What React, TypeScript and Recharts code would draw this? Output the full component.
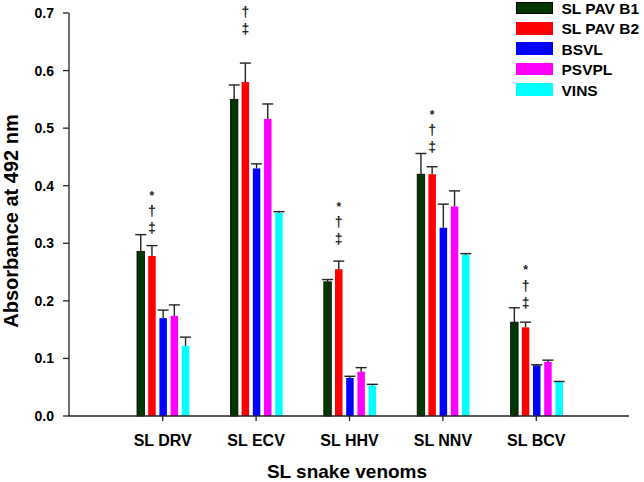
import React from 'react';
import { BarChart, Bar, XAxis, YAxis, Legend, Label } from 'recharts';

const categories = ['SL DRV', 'SL ECV', 'SL HHV', 'SL NNV', 'SL BCV'];
const pavB1 = [0.286, 0.55, 0.233, 0.42, 0.163];
const pavB1Err = [0.029, 0.025, 0.004, 0.036, 0.025];
const pavB2 = [0.278, 0.58, 0.255, 0.42, 0.154];
const pavB2Err = [0.018, 0.033, 0.014, 0.013, 0.009];
const bsvl = [0.17, 0.43, 0.066, 0.327, 0.088];
const bsvlErr = [0.014, 0.008, 0.003, 0.041, 0.001];
const psvpl = [0.174, 0.516, 0.077, 0.364, 0.094];
const psvplErr = [0.019, 0.026, 0.007, 0.027, 0.003];
const vins = [0.122, 0.353, 0.053, 0.28, 0.059];
const vinsErr = [0.015, 0.002, 0.002, 0.002, 0.001];
// significance markers shown above SL PAV B2 bars, and the level (absorbance) of the lowest marker
const sigMarks = [['*', '†', '‡'], ['†', '‡'], ['*', '†', '‡'], ['*', '†', '‡'], ['*', '†', '‡']];
const sigLevel = [0.325, 0.672, 0.306, 0.466, 0.196];
const yTicks = [0, 0.1, 0.2, 0.3, 0.4, 0.5, 0.6, 0.7];

const FONT = '"Liberation Sans", Arial, sans-serif';

const data = categories.map((name, i) => ({
  name,
  b1: pavB1[i], b1Err: pavB1Err[i],
  b2: pavB2[i], b2Err: pavB2Err[i],
  bsvl: bsvl[i], bsvlErr: bsvlErr[i],
  psvpl: psvpl[i], psvplErr: psvplErr[i],
  vins: vins[i], vinsErr: vinsErr[i],
  sigMarks: sigMarks[i],
  sigLevel: sigLevel[i],
}));

const series = [
  { key: 'b1', name: 'SL PAV B1', color: '#013801', stroke: '#000' },
  { key: 'b2', name: 'SL PAV B2', color: '#ff0000', stroke: undefined, sig: true },
  { key: 'bsvl', name: 'BSVL', color: '#0000ff', stroke: undefined },
  { key: 'psvpl', name: 'PSVPL', color: '#ff00ff', stroke: undefined },
  { key: 'vins', name: 'VINS', color: '#00ffff', stroke: undefined },
];

const glyphShift: Record<string, number> = { '‡': 0, '†': -17, '*': -37 };
const glyphBase: Record<string, number> = { '‡': 4.5, '†': 4.5, '*': 8 };
const glyphSize: Record<string, number> = { '‡': 14, '†': 14, '*': 12 };

function makeShape(key: string, color: string, stroke?: string, sig?: boolean) {
  return (props: any) => {
    const { x, y, width, height, payload } = props;
    const v = payload[key];
    const err = payload[key + 'Err'];
    const k = v ? height / v : 0;
    const top = y - err * k;
    const cx = x + width / 2;
    const bottom = y + height;
    const marks: any[] = [];
    if (sig) {
      const ly = bottom - payload.sigLevel * k;
      (payload.sigMarks as string[]).forEach((g, j) => {
        marks.push(
          <text key={'s' + j} x={cx} y={ly + glyphShift[g] + glyphBase[g]} textAnchor="middle"
            fontSize={glyphSize[g]} fontWeight="bold" fontFamily={FONT} fill="#222">{g}</text>
        );
      });
    }
    return (
      <g>
        <rect x={x} y={y} width={width} height={height} fill={color}
          stroke={stroke || 'none'} strokeWidth={stroke ? 0.8 : 0} />
        <line x1={cx} y1={y} x2={cx} y2={top} stroke="#222" strokeWidth={1.4} />
        <line x1={cx - 5.5} y1={top} x2={cx + 5.5} y2={top} stroke="#222" strokeWidth={1.4} />
        {marks}
      </g>
    );
  };
}

const renderLegend = () => (
  <div style={{ fontFamily: FONT }}>
    {series.map((s) => (
      <div key={s.key} style={{ height: 20.4, display: 'flex', alignItems: 'flex-start' }}>
        <div style={{
          width: 37, height: 12.5, marginTop: 1.7, background: s.color, boxSizing: 'border-box',
          border: s.stroke ? '1px solid #000' : 'none',
        }} />
        <div style={{ marginLeft: 8.5, fontSize: 15.5, fontWeight: 'bold', lineHeight: '17px', color: '#000', whiteSpace: 'nowrap' }}>
          {s.name}
        </div>
      </div>
    ))}
  </div>
);

export default function App() {
  return (
    <div style={{ position: 'absolute', left: 0, top: 0 }}>
      <BarChart width={644} height={482} data={data}
        margin={{ top: 13, right: 15, bottom: 36, left: 20 }}
        barSize={7.5} barGap={3.7}>
        <XAxis dataKey="name" padding={{ left: 47, right: 46 }} tickSize={5} tickMargin={14}
          height={30} axisLine={{ stroke: '#222', strokeWidth: 1.3 }} tickLine={{ stroke: '#222', strokeWidth: 1.3 }}
          tick={{ fill: '#000', fontSize: 16, fontWeight: 'bold', fontFamily: FONT }}>
          <Label content={() => (
            <text x={347} y={478} textAnchor="middle" fontSize={19} fontWeight="bold" fontFamily={FONT} fill="#000">
              SL snake venoms
            </text>
          )} />
        </XAxis>
        <YAxis type="number" domain={[0, 0.7]} ticks={yTicks} width={49} tickSize={6} tickMargin={9}
          tickFormatter={(v: number) => v.toFixed(1)} interval={0}
          axisLine={{ stroke: '#222', strokeWidth: 1.3 }} tickLine={{ stroke: '#222', strokeWidth: 1.3 }}
          tick={{ fill: '#000', fontSize: 14, fontWeight: 'bold', fontFamily: FONT }}>
          <Label content={() => (
            <text x={18} y={221} transform="rotate(-90 18 221)" textAnchor="middle" fontSize={20}
              fontWeight="bold" fontFamily={FONT} fill="#000">
              Absorbance at 492 nm
            </text>
          )} />
        </YAxis>
        <Legend layout="vertical" align="center" verticalAlign="middle" content={renderLegend}
          wrapperStyle={{ top: 0, left: 516, width: 128, height: 105 }} />
        {series.map((s) => (
          <Bar key={s.key} dataKey={s.key} name={s.name} fill={s.color} isAnimationActive={false}
            shape={makeShape(s.key, s.color, s.stroke, s.sig)} />
        ))}
      </BarChart>
    </div>
  );
}
